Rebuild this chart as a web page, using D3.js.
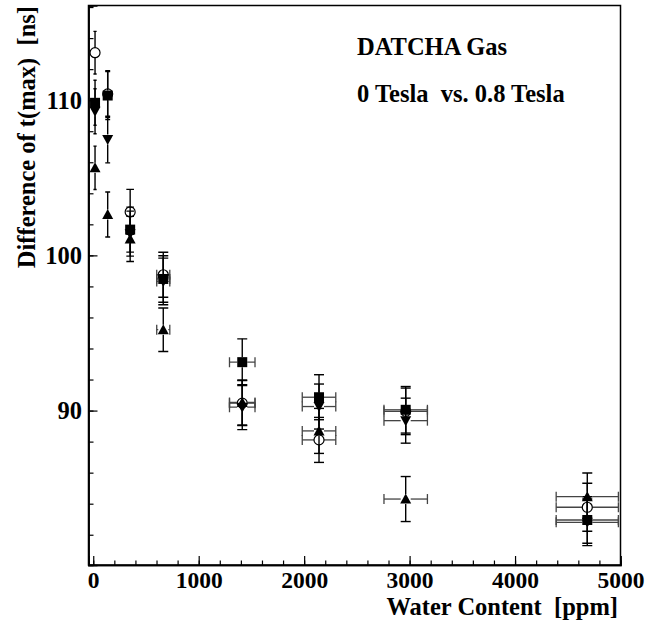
<!DOCTYPE html>
<html><head><meta charset="utf-8">
<script src="https://cdn.jsdelivr.net/npm/d3@7"></script>
<style>body{margin:0;background:#fff}svg{display:block}text{font-family:"Liberation Serif","Times New Roman",serif;font-weight:bold}</style>
</head><body>
<svg id="c" width="664" height="622"></svg>
<script>
// Water content [ppm] per measurement
const xValues = [17, 137, 350, 664, 1413, 2141, 2963, 4685];
const xErrors = [1, 9, 22, 62, 121, 159, 206, 295];
// Difference of t(max) [ns]
const circleValues = [113.06, 110.4, 102.80, 98.75, 90.48, 88.11, 89.95, 83.77];
const circleErrors = [1.37, 1.5, 1.45, 1.45, 1.45, 1.45, 1.5, 1.55];
const upValues = [105.64, 102.63, 101.06, 95.21, 90.52, 88.69, 84.30, 84.45];
const upErrors = [1.4, 1.45, 1.45, 1.4, 1.45, 1.45, 1.45, 1.53];
const downValues = [109.29, 107.46, 101.4, 98.32, 90.22, 90.26, 89.35, 82.8];
const downErrors = [1.45, 1.5, 1.45, 1.5, 1.45, 1.45, 1.45, 1.5];
const squareValues = [109.83, 110.30, 101.66, 98.48, 93.12, 90.86, 90.05, 82.95];
const squareErrors = [1.45, 1.55, 1.45, 1.5, 1.5, 1.45, 1.5, 1.5];
const xTicks = [0, 1000, 2000, 3000, 4000, 5000];
const yTicks = [90, 100, 110];
const xDomain = [-45, 5000];
const yDomain = [80.05, 116.1];
const titleX = "Water Content  [ppm]";
const titleY = "Difference of t(max)  [ns]";
const notes = ["DATCHA Gas", "0 Tesla  vs. 0.8 Tesla"];

const L = 88.5, R = 620.5, T = 5.5, B = 565;
const svg = d3.select("#c");
const x = d3.scaleLinear().domain(xDomain).range([L, R]);
const y = d3.scaleLinear().domain(yDomain).range([B, T]);

// frame
svg.append("rect").attr("x", L).attr("y", T).attr("width", R - L).attr("height", B - T)
  .attr("fill", "none").attr("stroke", "#000").attr("stroke-width", 1.5);

// axes (ticks inward)
const xMinor = d3.range(0, 5001, 200);
const yMinor = d3.range(82, 117, 2);
const gx = svg.append("g").attr("transform", `translate(0,${B})`);
gx.call(d3.axisBottom(x).tickValues(xMinor).tickSize(-4.5).tickFormat(""));
gx.append("g").call(d3.axisBottom(x).tickValues(xTicks).tickSize(-9).tickFormat(d3.format("d")));
const gy = svg.append("g").attr("transform", `translate(${L},0)`);
gy.call(d3.axisLeft(y).tickValues(yMinor).tickSize(-5).tickFormat(""));
gy.append("g").call(d3.axisLeft(y).tickValues(yTicks).tickSize(-9).tickFormat(d3.format("d")));
svg.selectAll(".domain").attr("stroke", "#000").attr("stroke-width", 1.5);
svg.selectAll(".tick line").attr("stroke", "#000").attr("stroke-width", 1.2);
gx.selectAll(".tick text").attr("font-size", 23.5).attr("font-family", "Liberation Serif").attr("font-weight", "bold")
  .attr("y", 23).attr("dy", null).attr("fill", "#000");
gy.selectAll(".tick text").attr("font-size", 24.5).attr("font-family", "Liberation Serif").attr("font-weight", "bold")
  .attr("x", -6.5).attr("dy", "0.34em").attr("fill", "#000");

// titles
svg.append("text").attr("x", 618).attr("y", 615).attr("text-anchor", "end")
  .attr("font-size", 24.5).style("white-space", "pre").text(titleX);
svg.append("text").attr("transform", "translate(35,6) rotate(-90)").attr("text-anchor", "end")
  .attr("font-size", 24.5).style("white-space", "pre").text(titleY);
svg.append("text").attr("x", 357).attr("y", 55).attr("font-size", 24.5).style("white-space", "pre").text(notes[0]);
svg.append("text").attr("x", 357).attr("y", 101.5).attr("font-size", 24.5).style("white-space", "pre").text(notes[1]);

const series = [
  {v: circleValues, e: circleErrors, shape: "circle"},
  {v: upValues, e: upErrors, shape: "up"},
  {v: downValues, e: downErrors, shape: "down"},
  {v: squareValues, e: squareErrors, shape: "square"}
];
const plot = svg.append("g");
svg.append("clipPath").attr("id", "pc").append("rect")
  .attr("x", L).attr("y", T).attr("width", R - L).attr("height", B - T);
plot.attr("clip-path", "url(#pc)");
const gap = 5;
series.forEach(s => {
  const g = plot.append("g");
  xValues.forEach((xv, i) => {
    const cx = x(xv), cy = y(s.v[i]);
    const x0 = x(xv - xErrors[i]), x1 = x(xv + xErrors[i]);
    const y0 = y(s.v[i] + s.e[i]), y1 = y(s.v[i] - s.e[i]);
    const cap = Math.min(5, (x1 - cx) + 1.5);
    // vertical error bar
    g.append("line").attr("x1", cx).attr("x2", cx).attr("y1", y0).attr("y2", cy - gap).attr("stroke", "#000").attr("stroke-width", 1.4);
    g.append("line").attr("x1", cx).attr("x2", cx).attr("y1", cy + gap).attr("y2", y1).attr("stroke", "#000").attr("stroke-width", 1.4);
    [y0, y1].forEach(yy => g.append("line").attr("x1", cx - cap).attr("x2", cx + cap).attr("y1", yy).attr("y2", yy).attr("stroke", "#000").attr("stroke-width", 1.4));
    // horizontal error bar
    if (x1 - cx > gap) {
      g.append("line").attr("x1", x0).attr("x2", cx - gap).attr("y1", cy).attr("y2", cy).attr("stroke", "#444").attr("stroke-width", 1.3);
      g.append("line").attr("x1", cx + gap).attr("x2", x1).attr("y1", cy).attr("y2", cy).attr("stroke", "#444").attr("stroke-width", 1.3);
      [x0, x1].forEach(xx => g.append("line").attr("x1", xx).attr("x2", xx).attr("y1", cy - 5).attr("y2", cy + 5).attr("stroke", "#444").attr("stroke-width", 1.3));
    }
    // marker
    if (s.shape === "circle") {
      g.append("circle").attr("cx", cx).attr("cy", cy).attr("r", 5).attr("fill", "none").attr("stroke", "#000").attr("stroke-width", 1.2);
    } else if (s.shape === "square") {
      g.append("rect").attr("x", cx - 5).attr("y", cy - 5).attr("width", 10).attr("height", 10).attr("fill", "#000");
    } else if (s.shape === "up") {
      g.append("path").attr("d", `M${cx - 5.5},${cy + 4.5}L${cx + 5.5},${cy + 4.5}L${cx},${cy - 5.5}Z`).attr("fill", "#000");
    } else {
      g.append("path").attr("d", `M${cx - 5.5},${cy - 4.5}L${cx + 5.5},${cy - 4.5}L${cx},${cy + 5.5}Z`).attr("fill", "#000");
    }
  });
});
</script>
</body></html>
